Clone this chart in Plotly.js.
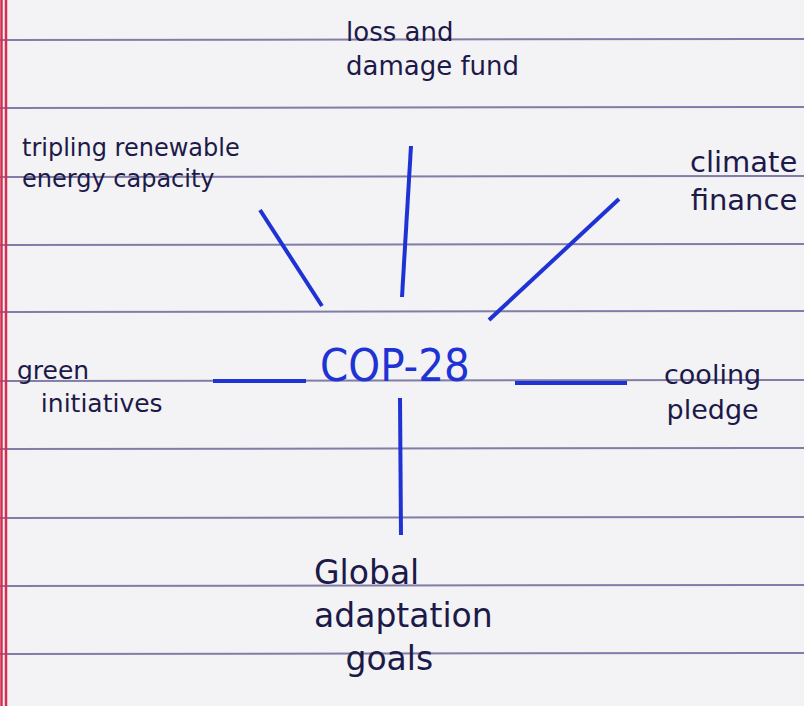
<!DOCTYPE html>
<html>
<head>
<meta charset="utf-8">
<script src="https://cdn.plot.ly/plotly-3.0.1.min.js"></script>
<style>
  html, body { margin: 0; padding: 0; background: #f3f2f5; }
  #chart { width: 804px; height: 706px; }
</style>
</head>
<body>
<div id="chart"></div>
<script>
// ---- data ----
const centerLabel = "COP-28";
const branchLabels = [
  ["loss and", "damage fund"],
  ["tripling renewable", "energy capacity"],
  ["climate", "finance"],
  ["green", "   initiatives"],
  ["cooling", "pledge"],
  ["Global", "adaptation", "   goals"]
];
// spokes drawn out from the centre word (page pixels)
const spokeX0 = [411, 260, 619, 213, 515, 400];
const spokeY0 = [146, 210, 199, 381, 383, 398];
const spokeX1 = [402, 322, 489, 306, 627, 401];
const spokeY1 = [297, 306, 320, 381, 383, 535];
// ruled notebook lines
const ruleY = [40, 108, 177, 245, 312, 381, 449, 518, 586, 654];
const marginX = [1.5, 6];

// ---- label placement & styles ----
const labelAnchorX = [344, 20, 799, 15, 712, 312];
const labelXAnchor = ["left", "left", "right", "left", "center", "left"];
const labelFirstBase = [42, 156, 173, 380, 383, 583];
const labelLastBase = [72, 186, 207, 410, 418, 670];
const labelSize = [26, 24, 29, 25, 27, 33];
const inkDark = "#1c1a48";
const inkBlue = "#1f33d4";
const W = 804, H = 706;

const traces = [];
const rx = [], ry = [];
ruleY.forEach(y => { rx.push(0, W, null); ry.push(y, y - 1, null); });
traces.push({x: rx, y: ry, mode: "lines", line: {color: "#827da6", width: 2}, hoverinfo: "skip"});
const mx = [], my = [];
marginX.forEach(x => { mx.push(x, x, null); my.push(0, H, null); });
traces.push({x: mx, y: my, mode: "lines", line: {color: "#d52f4f", width: 2.5}, hoverinfo: "skip"});
const sx = [], sy = [];
spokeX0.forEach((x, i) => { sx.push(x, spokeX1[i], null); sy.push(spokeY0[i], spokeY1[i], null); });
traces.push({x: sx, y: sy, mode: "lines", line: {color: inkBlue, width: 4}, hoverinfo: "skip"});

const annotations = branchLabels.map((lines, i) => ({
  x: labelAnchorX[i],
  y: (labelFirstBase[i] + labelLastBase[i]) / 2 - 0.32 * labelSize[i],
  xref: "x", yref: "y",
  text: lines.map(l => l.replace(/ /g, "\u00a0")).join("<br>"),
  showarrow: false, xanchor: labelXAnchor[i], yanchor: "middle", align: labelXAnchor[i],
  font: {family: "DejaVu Sans, sans-serif", size: labelSize[i], color: inkDark}
}));
annotations.push({
  x: 395, y: 382 - 0.36 * 45, xref: "x", yref: "y", text: centerLabel, showarrow: false,
  xanchor: "center", yanchor: "middle",
  font: {family: "Liberation Sans Narrow, DejaVu Sans Condensed, Roboto, sans-serif", size: 45, color: inkBlue}
});

const layout = {
  width: W, height: H,
  margin: {l: 0, r: 0, t: 0, b: 0, pad: 0},
  paper_bgcolor: "#f3f2f5", plot_bgcolor: "#f3f2f5",
  showlegend: false,
  xaxis: {range: [0, W], visible: false, fixedrange: true},
  yaxis: {range: [H, 0], visible: false, fixedrange: true},
  annotations: annotations
};
Plotly.newPlot("chart", traces, layout, {displayModeBar: false, staticPlot: true});
</script>
</body>
</html>
